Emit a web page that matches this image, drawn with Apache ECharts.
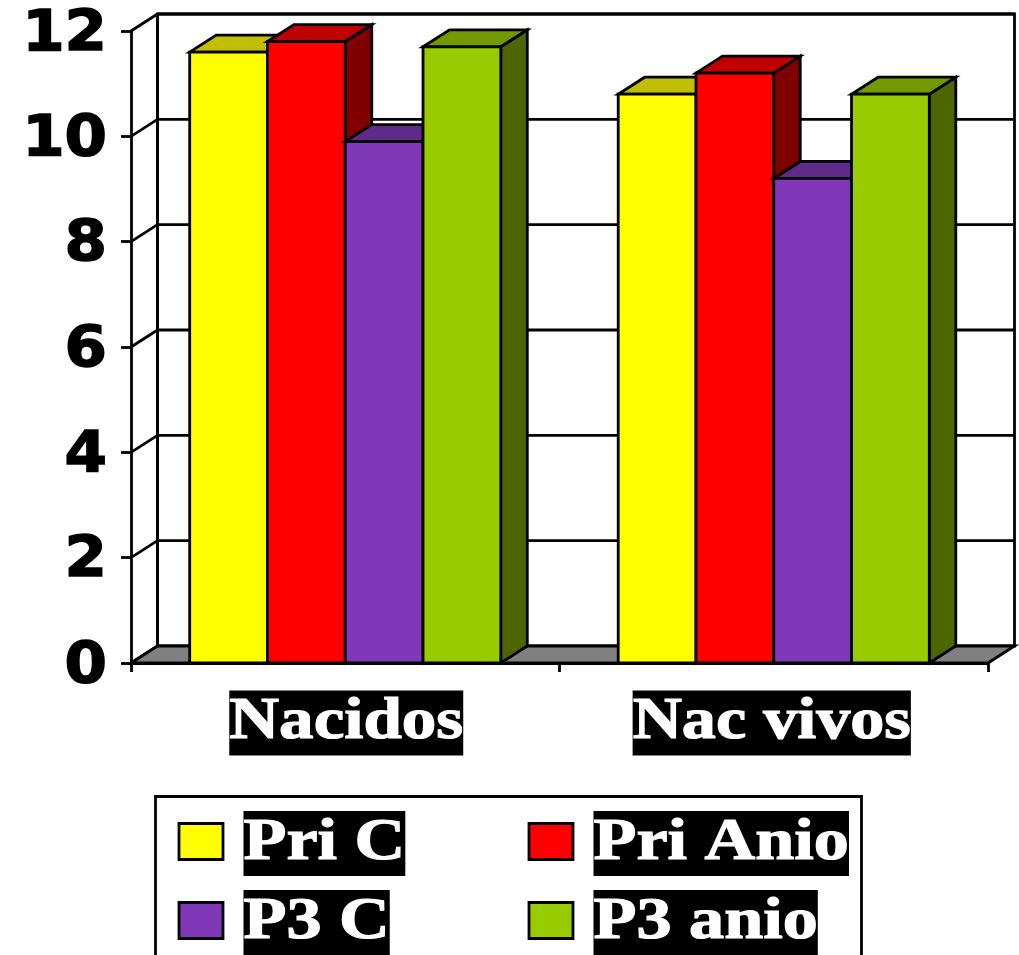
<!DOCTYPE html>
<html>
<head>
<meta charset="utf-8">
<style>html,body{margin:0;padding:0;background:#fff}#c{width:1019px;height:955px}</style>
<script src="https://cdn.jsdelivr.net/npm/echarts@6/dist/echarts.min.js"></script>
</head>
<body>
<div id="c"></div>
<script>
const categories = ['Nacidos', 'Nac vivos'];
const seriesNames = ['Pri C', 'Pri Anio', 'P3 C', 'P3 anio'];
const priC = [11.6, 10.8];
const priAnio = [11.8, 11.2];
const p3C = [9.9, 9.2];
const p3Anio = [11.7, 10.8];
const yTicks = [0, 2, 4, 6, 8, 10, 12];
const faces = [
  ['#ffff00', '#c0c000', '#808000'],
  ['#ff0000', '#c00000', '#800000'],
  ['#8038b8', '#602a8a', '#401c5c'],
  ['#99cc00', '#739900', '#4d6600']
];
const DX = 26.5, DY = -17, BAR_SHARE = 0.1815, LW = 2.8;
const serifFont = 'bold 59px "Liberation Serif"';
const tickFont = 'bold 57px "DejaVu Sans"';
const catStretch = [1.17, 1.155];
const catNudge = [1, -2];
const LEGEND_STRETCH = 1.19;

function poly(points, fill) {
  return {type: 'polygon', shape: {points}, style: {fill, stroke: '#000', lineWidth: LW, lineJoin: 'miter'}};
}
function line(x1, y1, x2, y2, w) {
  return {type: 'line', shape: {x1, y1, x2, y2}, style: {stroke: '#000', lineWidth: w || LW}};
}
function chip(text, x, y, align, stretch) {
  return {
    type: 'text', x, y, scaleX: stretch,
    style: {text, font: serifFont, fill: '#fff', backgroundColor: '#000',
            stroke: '#fff', lineWidth: 1.2,
            align, verticalAlign: 'middle', lineHeight: 53, padding: [12, 0, 0, 0]}
  };
}
function wallItem(params, api) {
  const s = params.coordSys;
  const x0 = s.x, x1 = s.x + s.width, y0 = s.y + s.height;
  const children = [];
  children.push({type: 'rect', shape: {x: x0 + DX, y: s.y + DY, width: s.width, height: s.height},
                 style: {fill: '#fff', stroke: '#000', lineWidth: LW}});
  yTicks.forEach(t => {
    const y = api.coord([0, t])[1];
    if (t > 0) children.push(line(x0 + DX, y + DY, x1 + DX, y + DY));
    children.push(line(x0, y, x0 + DX, y + DY));
  });
  children.push(poly([[x0, y0], [x1, y0], [x1 + DX, y0 + DY], [x0 + DX, y0 + DY]], '#808080'));
  children.push(line(x0 + DX, s.y + DY, x0 + DX, y0 + DY, 3));
  return {type: 'group', children};
}
function barItem(idx) {
  return function (params, api) {
    const cat = api.value(0);
    const base = api.coord([cat, 0]);
    const top = api.coord([cat, api.value(1)]);
    const w = api.size([1, 0])[0] * BAR_SHARE;
    const l = base[0] + (idx - 2) * w, r = l + w;
    const yT = top[1], yB = base[1];
    const c = faces[idx];
    return {type: 'group', children: [
      poly([[r, yB], [r + DX, yB + DY], [r + DX, yT + DY], [r, yT]], c[2]),
      poly([[l, yT], [l + DX, yT + DY], [r + DX, yT + DY], [r, yT]], c[1]),
      poly([[l, yT], [r, yT], [r, yB], [l, yB]], c[0])
    ]};
  };
}
function catLabelItem(params, api) {
  const c = api.value(0);
  const p = api.coord([c, 0]);
  return chip(categories[c], p[0] + catNudge[c], p[1] + 60, 'center', catStretch[c]);
}
function tickLabelItem(params, api) {
  const s = params.coordSys;
  const y = api.coord([0, api.value(1)])[1];
  return {
    type: 'text', x: s.x - 24, y: y + 5, scaleX: 1.07,
    style: {text: String(api.value(1)), font: tickFont, fill: '#000', stroke: '#000', lineWidth: 1.5,
            align: 'right', verticalAlign: 'middle'}
  };
}
const valuesBySeries = [priC, priAnio, p3C, p3Anio];
const series = [{
  type: 'custom', name: 'wall', silent: true, z: 1, renderItem: wallItem, data: [[0, 0]]
}];
valuesBySeries.forEach((vals, i) => series.push({
  type: 'custom', name: seriesNames[i], z: 2, renderItem: barItem(i),
  data: vals.map((v, c) => [c, v])
}));
series.push({type: 'custom', name: 'labels', silent: true, z: 3, renderItem: catLabelItem,
  data: categories.map((_, c) => [c, 0])});
series.push({type: 'custom', name: 'ticks', silent: true, z: 3, renderItem: tickLabelItem,
  data: yTicks.map(t => [0, t])});

const legendX = [179, 529], legendY = [841.5, 920.5];
const legendChildren = [{
  type: 'rect', shape: {x: 155.5, y: 796.5, width: 706, height: 200},
  style: {fill: '#fff', stroke: '#000', lineWidth: LW}
}];
seriesNames.forEach((n, i) => {
  const x = legendX[i % 2], y = legendY[i >> 1];
  legendChildren.push({type: 'rect', shape: {x, y: y - 18, width: 44, height: 36},
    style: {fill: faces[i][0], stroke: '#000', lineWidth: LW}});
  legendChildren.push(chip(n, x + 64.5, y + 2, 'left', LEGEND_STRETCH));
});

const chart = echarts.init(document.getElementById('c'), null, {renderer: 'canvas'});
chart.setOption({
  animation: false,
  backgroundColor: '#fff',
  grid: {left: 131, right: 31, top: 31, bottom: 292},
  xAxis: {
    type: 'category', data: categories,
    axisLine: {lineStyle: {color: '#000', width: LW}},
    axisTick: {show: true, length: 9, lineStyle: {color: '#000', width: LW}},
    axisLabel: {show: false}, splitLine: {show: false}
  },
  yAxis: {
    type: 'value', min: 0, max: 12, interval: 2,
    axisLine: {show: true, lineStyle: {color: '#000', width: LW}},
    axisTick: {show: true, length: 10, lineStyle: {color: '#000', width: LW}},
    axisLabel: {show: false},
    splitLine: {show: false}
  },
  series,
  graphic: [{type: 'group', silent: true, children: legendChildren}]
});
</script>
</body>
</html>
